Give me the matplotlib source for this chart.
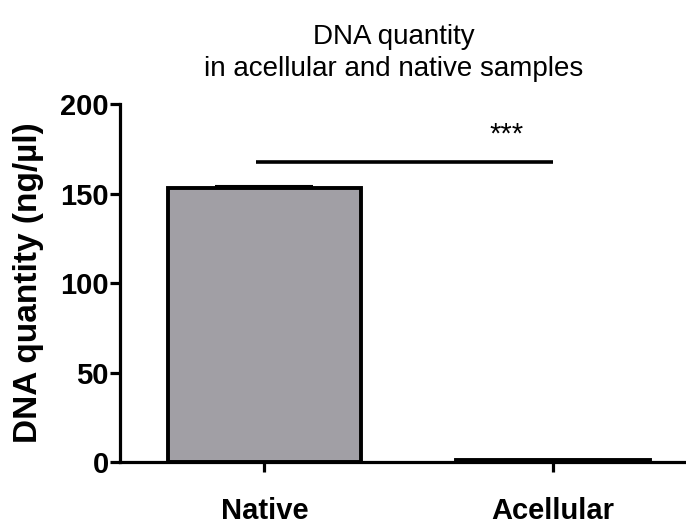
import matplotlib
matplotlib.use("Agg")
import matplotlib.pyplot as plt

plt.rcParams['font.family'] = ['Liberation Sans', 'DejaVu Sans']

categories = ["Native", "Acellular"]
values = [153.5, 1.0]
errors = [0.8, 0.3]
yticks = [0, 50, 100, 150, 200]
sig_label = "***"
sig_y = 168

fig = plt.figure(figsize=(6.86, 5.29), dpi=100)
ax = fig.add_axes([0.175, 0.1267, 0.825, 0.676])

x = list(range(len(categories)))
ax.bar(x, values, width=0.67, color='#a19fa5', edgecolor='black', linewidth=2.8, zorder=2)
ax.errorbar(x, values, yerr=[[0]*len(errors), errors], fmt='none', ecolor='black',
            elinewidth=1.5, capsize=35, capthick=1.5, zorder=3)

ax.plot([-0.03, 1.0], [sig_y, sig_y], color='black', lw=2.6, solid_capstyle='butt')
ax.text(0.84, sig_y + 15, sig_label, ha='center', va='center', fontsize=21)

ax.set_xlim(-0.5, 1.46)
ax.set_ylim(0, 200)
ax.set_yticks(yticks)
ax.set_xticks(x)
ax.set_xticklabels(categories, fontsize=21, fontweight='bold')
for lab in ax.get_yticklabels():
    lab.set_fontsize(21)
    lab.set_fontweight('bold')
ax.tick_params(axis='both', direction='out', length=7, width=2.3, pad=1)
ax.tick_params(axis='x', pad=18)

ax.spines['top'].set_visible(False)
ax.spines['right'].set_visible(False)
ax.spines['left'].set_linewidth(2.3)
ax.spines['bottom'].set_linewidth(2.3)

ax.set_ylabel("DNA quantity (ng/µl)", fontsize=24, fontweight='bold', labelpad=12)
fig.text(0.574, 1 - 24/529, "DNA quantity\nin acellular and native samples",
         ha='center', va='top', fontsize=20, linespacing=1.3)

fig.savefig("out.png", dpi=100)
